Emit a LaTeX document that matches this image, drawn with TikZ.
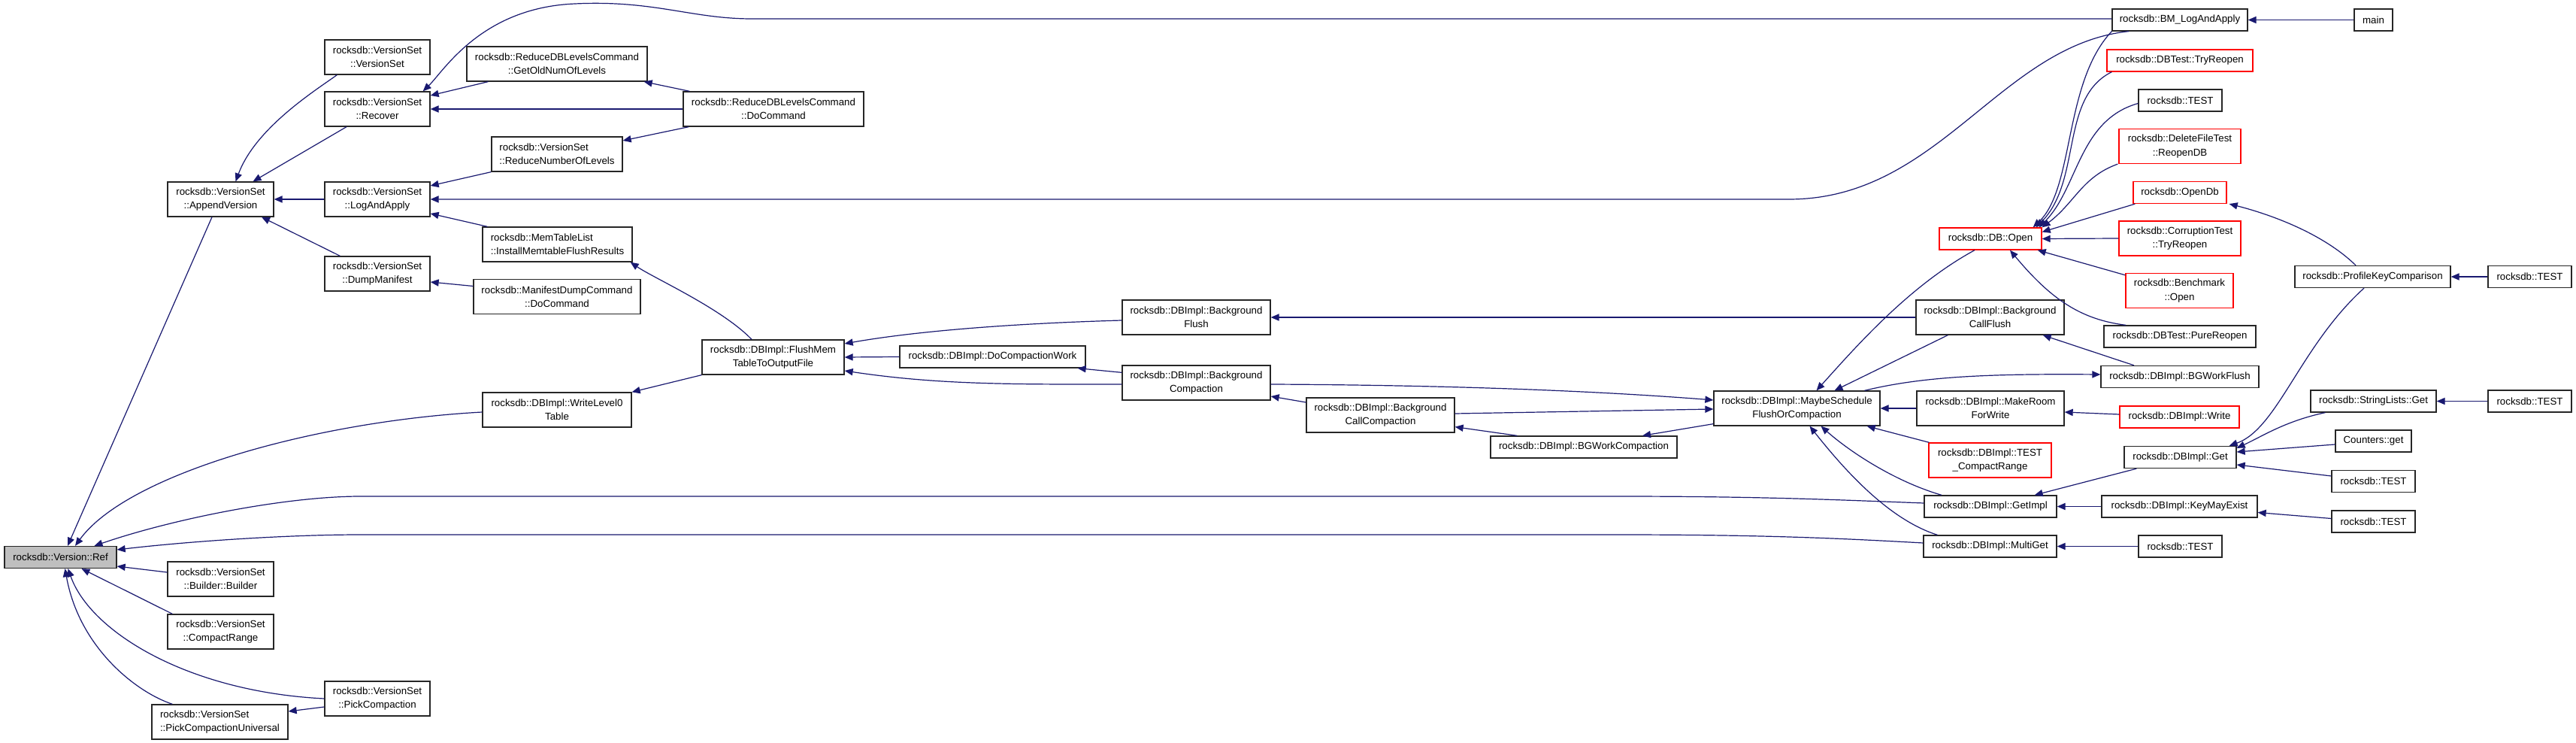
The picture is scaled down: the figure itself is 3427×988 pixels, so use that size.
\documentclass[tikz,border=0pt]{standalone}
\usepackage{fontspec}
\setmainfont{Liberation Sans}
\usetikzlibrary{arrows.meta,calc}
\definecolor{edgec}{HTML}{191970}
\definecolor{refgray}{HTML}{BFBFBF}
\newcommand\nodefont{\fontsize{6.65}{9.1}\selectfont}
\newcommand\lfl[2]{\setbox0=\hbox{#2}\makebox[\wd0][l]{#1}\\#2}
\tikzset{
  nb/.style={draw=black!85, line width=0.65pt, fill=white, minimum width={#1*0.5pt}, minimum height=14.5pt, inner sep=1pt, align=center, font=\nodefont},
  nb2/.style={nb=#1, minimum height=23pt},
  rnb/.style={nb=#1, draw=red},
  rnb2/.style={nb2=#1, draw=red},
  edg/.style={draw=edgec, line width=0.6pt, {Triangle[length=5.5pt,width=4.6pt]}-},
}
\begin{document}
\begin{tikzpicture}[x=0.5pt,y=-0.5pt]
\fill[white] (0,0) rectangle (3427,988);
\path[use as bounding box] (0,0) rectangle (3427,988);
% nodes
\node[nb=149, fill=refgray] (ref) at (80.5,741) {rocksdb::Version::Ref};
\node[nb2=141] (av) at (293.5,265) {rocksdb::VersionSet\\::AppendVersion};
\node[nb2=141] (bld) at (293.5,770) {rocksdb::VersionSet\\::Builder::Builder};
\node[nb2=141] (cr) at (293.5,840) {rocksdb::VersionSet\\::CompactRange};
\node[nb2=181] (pcu) at (292.5,960) {\lfl{rocksdb::VersionSet}{::PickCompactionUniversal}};
\node[nb2=140] (vs) at (502,76) {rocksdb::VersionSet\\::VersionSet};
\node[nb2=140] (rec) at (502,145) {rocksdb::VersionSet\\::Recover};
\node[nb2=140] (lap) at (502,265) {rocksdb::VersionSet\\::LogAndApply};
\node[nb2=140] (dm) at (502,364) {rocksdb::VersionSet\\::DumpManifest};
\node[nb2=140] (pc) at (502,929) {rocksdb::VersionSet\\::PickCompaction};
\node[nb2=240] (gol) at (741,85) {rocksdb::ReduceDBLevelsCommand\\::GetOldNumOfLevels};
\node[nb2=174] (rnl) at (741,205) {\lfl{rocksdb::VersionSet}{::ReduceNumberOfLevels}};
\node[nb2=199] (imf) at (741.5,325) {\lfl{rocksdb::MemTableList}{::InstallMemtableFlushResults}};
\node[nb2=222] (mdc) at (741,394.5) {rocksdb::ManifestDumpCommand\\::DoCommand};
\node[nb2=198] (wl0) at (741,545) {rocksdb::DBImpl::WriteLevel0\\Table};
\node[nb2=240] (rdc) at (1029,145) {rocksdb::ReduceDBLevelsCommand\\::DoCommand};
\node[nb2=189] (fmt) at (1028.5,475) {rocksdb::DBImpl::FlushMem\\TableToOutputFile};
\node[nb=247] (dcw) at (1320.5,474.5) {rocksdb::DBImpl::DoCompactionWork};
\node[nb2=197] (bgf) at (1591.5,422) {rocksdb::DBImpl::Background\\Flush};
\node[nb2=197] (bgc) at (1591.5,509) {rocksdb::DBImpl::Background\\Compaction};
\node[nb2=197] (bcc) at (1836.5,552) {rocksdb::DBImpl::Background\\CallCompaction};
\node[nb=248] (bwc) at (2107,594.5) {rocksdb::DBImpl::BGWorkCompaction};
\node[nb2=221] (msf) at (2390.5,543) {rocksdb::DBImpl::MaybeSchedule\\FlushOrCompaction};
\node[rnb=136] (dbo) at (2648,317.5) {rocksdb::DB::Open};
\node[nb2=197] (bcf) at (2647.5,422) {rocksdb::DBImpl::Background\\CallFlush};
\node[nb2=196] (mrw) at (2648,543) {rocksdb::DBImpl::MakeRoom\\ForWrite};
\node[rnb2=163] (tcr) at (2647.5,612) {rocksdb::DBImpl::TEST\\\_CompactRange};
\node[nb=176] (gim) at (2648,673.5) {rocksdb::DBImpl::GetImpl};
\node[nb=177] (mg) at (2647.5,726.5) {rocksdb::DBImpl::MultiGet};
\node[nb=180] (bml) at (2900,26.5) {rocksdb::BM\_LogAndApply};
\node[rnb=194] (dtr) at (2900,80.5) {rocksdb::DBTest::TryReopen};
\node[nb=111] (t1) at (2900.5,133.5) {rocksdb::TEST};
\node[rnb2=162] (dfr) at (2900,194.5) {rocksdb::DeleteFileTest\\::ReopenDB};
\node[rnb=124] (odb) at (2900,256) {rocksdb::OpenDb};
\node[rnb2=162] (ctr) at (2900,317) {rocksdb::CorruptionTest\\::TryReopen};
\node[rnb2=143] (bmo) at (2899.5,386.5) {rocksdb::Benchmark\\::Open};
\node[nb=202] (pr) at (2900,447.5) {rocksdb::DBTest::PureReopen};
\node[nb=210] (bwf) at (2900,501) {rocksdb::DBImpl::BGWorkFlush};
\node[rnb=159] (wr) at (2899.5,554.5) {rocksdb::DBImpl::Write};
\node[nb=149] (get) at (2900.5,608) {rocksdb::DBImpl::Get};
\node[nb=207] (kme) at (2899.5,673.5) {rocksdb::DBImpl::KeyMayExist};
\node[nb=111] (t2) at (2900.5,726.5) {rocksdb::TEST};
\node[nb=51] (mainn) at (3157.5,26.5) {main};
\node[nb=207] (pkc) at (3156.5,368) {rocksdb::ProfileKeyComparison};
\node[nb=167] (slg) at (3157.5,533.5) {rocksdb::StringLists::Get};
\node[nb=101] (cg) at (3157.5,586.5) {Counters::get};
\node[nb=111] (t3) at (3157.5,640) {rocksdb::TEST};
\node[nb=111] (t4) at (3157.5,693.5) {rocksdb::TEST};
\node[nb=111] (t5) at (3365.5,368) {rocksdb::TEST};
\node[nb=111] (t6) at (3365.5,533.5) {rocksdb::TEST};
% edges (arrow at callee)
\draw[edg] ($(ref.north)+(9.5,0)$) -- ($(av.south)+(-11.5,0)$);
\draw[edg] ($(ref.north)+(19.5,0)$) .. controls (170,630) and (420,560) .. ($(wl0.west)+(0,3)$);
\draw[edg] ($(ref.north)+(45,0)$) .. controls (230,690) and (380,660) .. (480,660) -- (2150,660) .. controls (2350,660) and (2450,665) .. ($(gim.west)+(0,-4.5)$);
\draw[edg] ($(ref.east)+(0,-10)$) .. controls (250,720) and (380,711) .. (480,711) -- (2150,711) .. controls (2350,711) and (2450,716) .. ($(mg.west)+(0,-4.5)$);
\draw[edg] ($(ref.east)+(0,12)$) -- ($(bld.west)+(0,-9)$);
\draw[edg] ($(ref.south)+(28,0)$) -- ($(cr.north west)+(7,0)$);
\draw[edg] ($(ref.south)+(10,0)$) .. controls (120,840) and (250,920) .. (pc.west);
\draw[edg] ($(ref.south)+(6,0)$) .. controls (105,860) and (180,920) .. ($(pcu.north west)+(28,0)$);
\draw[edg] ($(pcu.east)+(0,-14)$) -- ($(pc.west)+(0,11)$);
\draw[edg] ($(av.north)+(20,0)$) .. controls (340,170) and (420,120) .. ($(vs.south west)+(17,0)$);
\draw[edg] ($(av.north)+(43,0)$) -- ($(rec.south)+(-41,0)$);
\draw[edg] (av.east) -- (lap.west);
\draw[edg] ($(av.south)+(54.5,0)$) -- ($(dm.north west)+(21,0)$);
\draw[edg] ($(rec.east)+(0,-18)$) -- ($(gol.south west)+(29,0)$);
\draw[edg] (rec.east) -- (rdc.west);
\draw[edg] ($(rec.north east)+(-10,0)$) .. controls (590,95) and (640,10) .. (765,5) .. controls (870,0) and (920,25) .. (1000,25) -- ($(bml.west)+(0,-1.5)$);
\draw[edg] ($(gol.south east)+(-5,0)$) -- ($(rdc.north west)+(9,0)$);
\draw[edg] ($(rnl.east)+(0,-18)$) -- ($(rdc.south west)+(8,0)$);
\draw[edg] ($(lap.east)+(0,-18)$) -- (rnl.south west);
\draw[edg] (lap.east) -- (2380,265) .. controls (2580,265) and (2660,60) .. ($(bml.south)+(-68,0)$);
\draw[edg] ($(dm.east)+(0,11)$) -- ($(mdc.west)+(0,-14)$);
\draw[edg] ($(lap.east)+(0,19)$) -- ($(imf.north west)+(7,0)$);
\draw[edg] ($(imf.south east)+(-3,0)$) .. controls (870,370) and (960,410) .. ($(fmt.north)+(-28.5,0)$);
\draw[edg] (wl0.north east) -- (fmt.south west);
\draw[edg] ($(fmt.east)+(0,-18)$) .. controls (1220,440) and (1350,430) .. ($(bgf.west)+(0,4)$);
\draw[edg] (fmt.east) -- (dcw.west);
\draw[edg] ($(fmt.east)+(0,18)$) .. controls (1250,512) and (1350,511) .. ($(bgc.west)+(0,2)$);
\draw[edg] ($(dcw.south east)+(-11,0)$) -- ($(bgc.north west)+(0,10)$);
\draw[edg] (bgf.east) -- (bcf.west);
\draw[edg] ($(bgc.east)+(0,18)$) -- ($(bcc.west)+(0,-17)$);
\draw[edg] ($(msf.west)+(0,-11)$) .. controls (2100,518) and (1900,512) .. ($(bgc.east)+(0,2)$);
\draw[edg] ($(msf.west)+(0,1)$) -- ($(bcc.east)+(0,-2)$);
\draw[edg] ($(bcc.south east)+(0,-8)$) -- ($(bwc.north west)+(36,0)$);
\draw[edg] ($(bwc.north)+(78,0)$) -- ($(msf.south west)+(0,-3)$);
\draw[edg] ($(msf.north)+(26,0)$) .. controls (2470,460) and (2540,380) .. ($(dbo.south)+(-21,0)$);
\draw[edg] ($(msf.north)+(50,0)$) -- ($(bcf.south west)+(43,0)$);
\draw[edg] ($(bwf.west)+(0,-3)$) .. controls (2650,497) and (2560,500) .. ($(msf.north)+(90,0)$);
\draw[edg] ($(bcf.south east)+(-29,0)$) -- ($(bwf.north)+(-61,0)$);
\draw[edg] (msf.east) -- (mrw.west);
\draw[edg] ($(mrw.east)+(0,5)$) -- ($(wr.west)+(0,-3.5)$);
\draw[edg] ($(msf.south east)+(-18,0)$) -- ($(tcr.north west)+(1,0)$);
\draw[edg] ($(msf.south)+(32,0)$) .. controls (2460,600) and (2520,640) .. ($(gim.north)+(-65,0)$);
\draw[edg] ($(msf.south)+(17,0)$) .. controls (2450,620) and (2510,690) .. ($(mg.north)+(-70,0)$);
\draw[edg] ($(gim.north east)+(-30,0)$) -- ($(get.south west)+(17,0)$);
\draw[edg] (gim.east) -- (kme.west);
\draw[edg] (mg.east) -- (t2.west);
\draw[edg] ($(kme.east)+(0,8)$) -- ($(t4.west)+(0,-4)$);
\draw[edg] ($(get.north east)+(-10,0)$) .. controls (3030,570) and (3060,460) .. ($(pkc.south)+(-11.5,0)$);
\draw[edg] ($(get.north east)+(0,3)$) .. controls (3010,580) and (3040,560) .. ($(slg.south west)+(20,0)$);
\draw[edg] ($(get.east)+(0,-7)$) -- ($(cg.west)+(0,4.5)$);
\draw[edg] ($(get.east)+(0,10)$) -- ($(t3.west)+(0,-7)$);
\draw[edg] (slg.east) -- (t6.west);
\draw[edg] (bml.east) -- (mainn.west);
\draw[edg] ($(dbo.north east)+(-12,0)$) .. controls (2760,250) and (2745,110) .. (bml.south west);
\draw[edg] ($(dbo.north east)+(-8,0)$) .. controls (2770,240) and (2740,130) .. ($(dtr.south west)+(7,0)$);
\draw[edg] ($(dbo.north east)+(-4,0)$) .. controls (2765,250) and (2765,160) .. ($(t1.west)+(0,4)$);
\draw[edg] (dbo.north east) .. controls (2760,270) and (2770,235) .. ($(dfr.south west)+(-1,0)$);
\draw[edg] ($(dbo.east)+(0,-9)$) -- ($(odb.south west)+(3,0)$);
\draw[edg] (dbo.east) -- (ctr.west);
\draw[edg] ($(dbo.south east)+(-6,0)$) -- ($(bmo.north west)+(0,3)$);
\draw[edg] ($(dbo.south)+(26,0)$) .. controls (2730,400) and (2770,425) .. ($(pr.north)+(-72,0)$);
\draw[edg] ($(odb.south east)+(3,0)$) .. controls (3020,285) and (3090,310) .. ($(pkc.north)+(-22.5,0)$);
\draw[edg] (pkc.east) -- (t5.west);
\end{tikzpicture}
\end{document}
